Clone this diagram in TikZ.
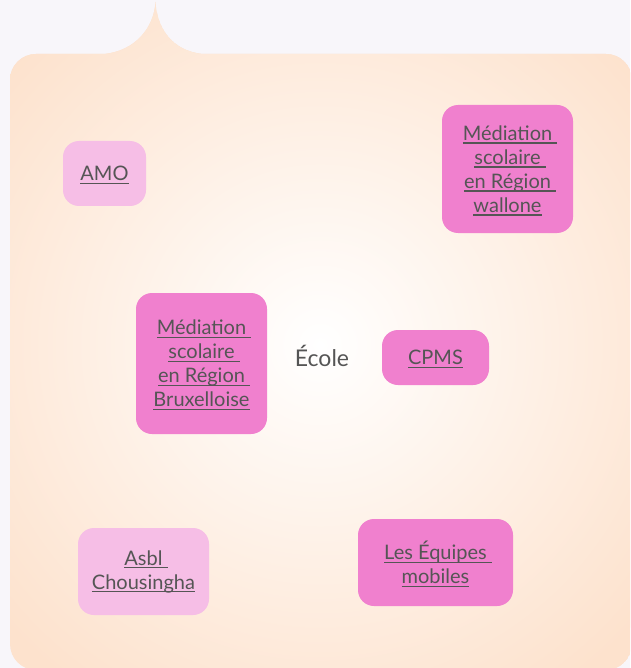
\documentclass[tikz,border=0pt]{standalone}
\usepackage{fontspec}
\setmainfont{Lato}
\definecolor{bg}{HTML}{F8F6FA}
\definecolor{peach}{HTML}{FDE2CD}
\definecolor{pinkdark}{HTML}{F080CE}
\definecolor{pinklight}{HTML}{F6BEE6}
\definecolor{txt}{HTML}{555555}
% underline with trailing space (ulsp) and without (ulno)
\newcommand\ulsp[1]{\setbox0\hbox{#1}\rlap{\smash{\raisebox{-3.4pt}{\rule{\dimexpr\wd0+5pt\relax}{1.3pt}}}}\box0}
\newcommand\ulno[1]{\setbox0\hbox{#1}\rlap{\smash{\raisebox{-3.4pt}{\rule{\wd0}{1.3pt}}}}\box0}
\begin{document}
\begin{tikzpicture}[x=1pt,y=-1pt,
  cardbox/.style={rounded corners=16pt, inner sep=0pt, align=center, text=txt,
    font=\fontsize{20}{24}\selectfont},
  darkcard/.style={cardbox, fill=pinkdark},
  lightcard/.style={cardbox, fill=pinklight}]
\useasboundingbox (0,0) rectangle (630,668);
\clip (0,0) rectangle (630,668);
\fill[bg] (0,0) rectangle (630,668);
\def\bubble{(10,80) .. controls (10,65.6) and (21.6,54) .. (36,54) -- (104,54)
  .. controls (135,51) and (154,28) .. (155.5,2)
  .. controls (157,28) and (172,51) .. (203,54)
  -- (606,54) .. controls (620.4,54) and (632,65.6) .. (632,80)
  -- (632,644) .. controls (632,658.4) and (620.4,670) .. (606,670)
  -- (36,670) .. controls (21.6,670) and (10,658.4) .. (10,644) -- cycle}
\begin{scope}
  \clip \bubble;
  \fill[peach] \bubble;
  \shade[inner color=white, outer color=peach] (320,345) circle (420);
\end{scope}

\node[lightcard, minimum width=83pt, minimum height=65pt] (amo) at (104.5,173.5)
  {\ulno{AMO}};
\node[darkcard, minimum width=131pt, minimum height=128pt] (wal) at (507.5,169)
  {\ulsp{Médiation}\\ \ulsp{scolaire}\\ \ulsp{en Région}\\ \ulno{wallone}};
\node[darkcard, minimum width=131pt, minimum height=141pt] (bxl) at (201.5,363.5)
  {\ulsp{Médiation}\\ \ulsp{scolaire}\\ \ulsp{en Région}\\ \ulno{Bruxelloise}};
\node[darkcard, minimum width=107pt, minimum height=55pt] (cpms) at (435.5,357.5)
  {\ulno{CPMS}};
\node[lightcard, minimum width=131pt, minimum height=87pt] (asbl) at (143.5,571.5)
  {\ulsp{Asbl}\\ \ulno{Chousingha}};
\node[darkcard, minimum width=155pt, minimum height=87pt] (eqm) at (435.5,562.5)
  {\ulsp{Les Équipes}\\ \ulno{mobiles}};
\node[text=txt, font=\fontsize{23}{27}\selectfont, inner sep=0pt] (ecole) at (322,356) {École};
\end{tikzpicture}
\end{document}
